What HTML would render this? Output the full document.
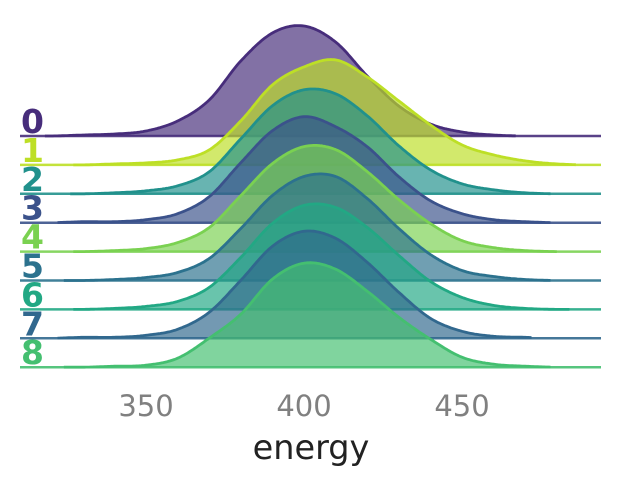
<!DOCTYPE html>
<html><head><meta charset="utf-8"><style>
body{margin:0;background:#fff;}
svg{display:block;font-family:"DejaVu Sans","Liberation Sans",sans-serif;}
</style></head><body>
<svg id="chart" width="621" height="486"></svg>
<script>
const categories=["0","1","2","3","4","5","6","7","8"];
const colors=["#472d7b","#bddf26","#21918c","#3b528b","#7ad151","#2c728e","#22a884","#31688e","#44bf70"];
const energyGrid=[320,330,340,350,360,370,380,390,400,410,420,430,440,450,460,470,480,490];
const dens0=[0,1,2,5,15,36,75,103,110,94,60,30,12,4,1,0,0,0];
const dens1=[0,0,1,2,5,15,44,80,98,105,88,64,40,20,10,4,1,0];
const dens2=[0,0,1,3,8,22,55,88,104,100,78,48,24,10,4,1,0,0];
const dens3=[0,1,1,3,9,26,60,92,106,96,76,46,22,9,3,1,0,0];
const dens4=[0,0,1,3,9,24,56,88,105,102,80,52,28,11,4,1,0,0];
const dens5=[0,0,1,3,8,22,52,85,104,104,82,52,26,10,4,1,0,0];
const dens6=[0,0,1,3,8,22,52,86,104,102,82,54,28,12,4,1,0,0];
const dens7=[0,1,1,3,9,26,58,92,107,100,76,46,20,7,2,1,0,0];
const dens8=[0,0,1,2,9,29,53,88,104,98,76,50,28,10,3,1,0,0];
const series=[dens0,dens1,dens2,dens3,dens4,dens5,dens6,dens7,dens8];
const rangeMin=[318,327,326,322,327,324,327,322,324];
const rangeMax=[467,486,478,478,480,478,484,472,478];
const xTicks=[350,400,450];

const svg=document.getElementById('chart');
const NS='http://www.w3.org/2000/svg';
const xS=e=>146+(e-350)*3.16;
const base0=136,step=28.9;
const baseY=i=>base0+i*step;
function dens(arr,e){
  if(e<=energyGrid[0])return arr[0];
  for(let k=0;k<energyGrid.length-1;k++){
    if(e<=energyGrid[k+1]){
      const t=(e-energyGrid[k])/(energyGrid[k+1]-energyGrid[k]);
      const p0=arr[Math.max(k-1,0)],p1=arr[k],p2=arr[k+1],p3=arr[Math.min(k+2,arr.length-1)];
      const t2=t*t,t3=t2*t;
      return Math.max(0,0.5*((2*p1)+(-p0+p2)*t+(2*p0-5*p1+4*p2-p3)*t2+(-p0+3*p1-3*p2+p3)*t3));
    }
  }
  return arr[arr.length-1];
}
function mk(tag,attrs){const el=document.createElementNS(NS,tag);for(const k in attrs)el.setAttribute(k,attrs[k]);return el;}
series.forEach((arr,i)=>{
  const g=mk('g',{});
  
  
  const by=baseY(i);
  const pts=[];
  for(let e=rangeMin[i];e<=rangeMax[i];e+=0.5){pts.push([xS(e),by-dens(arr,e)]);}
  const d='M'+pts.map(p=>p[0].toFixed(1)+','+p[1].toFixed(1)).join('L');
  const area=mk('path',{d:d+`L${xS(rangeMax[i]).toFixed(1)},${by}L${xS(rangeMin[i]).toFixed(1)},${by}Z`,fill:colors[i],'fill-opacity':0.68});
  
  
  g.appendChild(area);
  const line=mk('path',{d:d,fill:'none',stroke:colors[i],'stroke-width':2.8,'stroke-linejoin':'round'});
  
  
  g.appendChild(line);
  const bl=mk('line',{x1:20,x2:601,y1:by,y2:by,stroke:colors[i],'stroke-width':2.5,'stroke-opacity':0.9});
  
  
  g.appendChild(bl);
  const lab=mk('text',{x:21,y:by-3,fill:colors[i],'font-size':33,'font-weight':'bold'});
  lab.textContent=categories[i];
  
  
  g.appendChild(lab);
  svg.appendChild(g);
});
xTicks.forEach(t=>{
  const tx=mk('text',{x:xS(t),y:416,fill:'#808080','font-size':29,'text-anchor':'middle'});
  tx.textContent=t;
  
  
  svg.appendChild(tx);
});
const xt=mk('text',{x:311,y:459,fill:'#222','font-size':33.5,'text-anchor':'middle'});
xt.textContent='energy';


svg.appendChild(xt);
</script>
</body></html>
